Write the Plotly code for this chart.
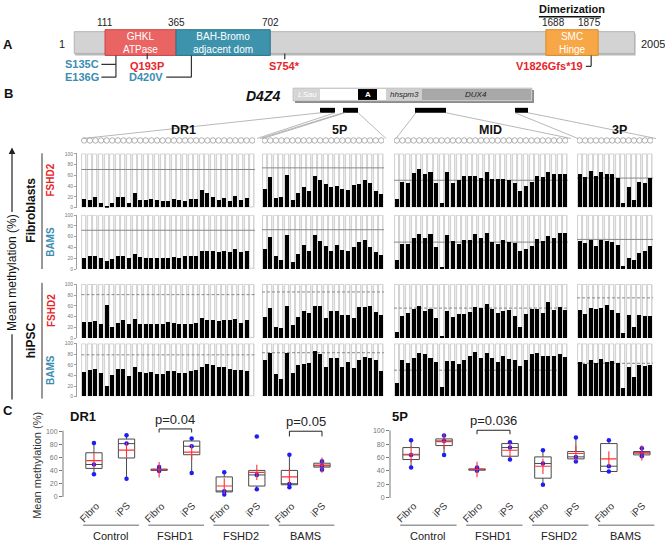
import plotly.graph_objects as go

W, H = 665, 544
FONT = "Arial, 'Liberation Sans', sans-serif"
RED = "#e8262a"
TEAL = "#3b8db2"

def PX(x):
    return x / W

def PY(y):
    return 1 - y / H

# ---------------- Panel A data ----------------
protein_length = 2005
domain_labels = ["GHKL<br>ATPase", "BAH-Bromo<br>adjacent dom", "SMC<br>Hinge"]
domain_start = [111, 365, 1688]
domain_end = [365, 702, 1875]
domain_colors = ["#ea6464", "#3d92ac", "#f7a746"]
domain_edges = ["#c94646", "#2c7389", "#d98a2a"]
boundary_ticks = [111, 365, 702, 1688, 1875]
dimerization = [1688, 1875]
mutation_labels = ["S135C", "E136G", "Q193P", "D420V", "S754*", "V1826Gfs*19"]
mutation_pos = [135, 136, 193, 420, 754, 1826]
mutation_colors = [TEAL, TEAL, RED, TEAL, RED, RED]

# ---------------- Panel B data ----------------
regions = ["DR1", "5P", "MID", "3P"]
row_cells = ["Fibroblasts", "Fibroblasts", "hiPSC", "hiPSC"]
row_lines = ["FSHD2", "BAMS", "FSHD2", "BAMS"]

DR1_fibro_FSHD2 = [16, 13, 19, 8, 3, 9, 19, 20, 8, 27, 13, 13, 15, 13, 11, 12, 16, 13, 12, 15, 15, 32, 26, 19, 13, 17, 12, 21, 14, 17, None]
DR1_fibro_BAMS = [22, 24, 24, 22, 16, 19, 24, 24, 21, 28, 23, 22, 22, 22, 22, 22, 23, 22, 24, 25, 24, 35, 35, 35, 33, 34, 33, 37, 32, 35, None]
DR1_ipsc_FSHD2 = [30, 31, 33, 27, 62, 22, 28, 34, 27, 36, 27, 26, 27, 27, 26, 31, 29, 26, 27, 27, 29, 37, 35, 34, 32, 35, 34, 36, 29, 35, None]
DR1_ipsc_BAMS = [46, 50, 52, 44, 20, 41, 51, 52, 38, 55, 46, 44, 46, 43, 43, 49, 48, 45, 44, 48, 50, 56, 62, 59, 56, 55, 52, 50, 50, 48, None]

P5_fibro_FSHD2 = [34, 57, 18, 20, 61, 13, 27, 38, 31, 58, 51, 43, 37, 40, 34, 33, 41, 43, 50, 45, 31, 25]
P5_fibro_BAMS = [38, 61, 24, 17, 64, 14, 29, 46, 34, 64, 53, 43, 35, 45, 36, 35, 41, 50, 54, 41, 32, 27]
P5_ipsc_FSHD2 = [40, 57, 21, 20, 60, 24, 40, 50, 47, 61, 60, 37, 50, 51, 44, 44, 38, 58, 59, 60, 49, 44]
P5_ipsc_BAMS = [68, 83, 42, 33, 82, 45, 60, 61, 63, 86, 81, 56, 73, 72, 56, 65, 53, 69, 75, 72, 68, 49]

MID_fibro_FSHD2 = [16, 48, 46, 63, 71, 62, 66, 46, 8, 65, 46, 50, 58, 59, 59, 55, 66, 52, 52, 53, 50, 45, 31, 40, 48, 59, 56, 65, 62, 62, 62]
MID_fibro_BAMS = [17, 48, 48, 59, 66, 58, 66, 41, 5, 63, 52, 48, 55, 55, 66, 59, 68, 50, 48, 55, 51, 49, 34, 37, 43, 56, 52, 62, 58, 67, 67]
MID_ipsc_FSHD2 = [12, 41, 47, 55, 60, 50, 55, 38, 5, 51, 39, 46, 45, 49, 59, 56, 64, 55, 48, 51, 52, 41, 22, 45, 54, 55, 47, 67, 53, 59, 53]
MID_ipsc_BAMS = [26, 69, 64, 73, 82, 80, 72, 65, 18, 67, 67, 61, 69, 77, 84, 73, 82, 73, 66, 77, 70, 68, 57, 69, 80, 82, 76, 76, 76, 80, 75]

P3_fibro_FSHD2 = [62, 57, 68, 59, 66, 62, 62, 54, 8, 38, 14, 48, 45, 54]
P3_fibro_BAMS = [52, 49, 54, 43, 55, 53, 50, 46, 7, 22, 17, 30, 34, 43]
P3_ipsc_FSHD2 = [53, 46, 56, 55, 56, 62, 53, 47, 10, 44, 21, 44, 42, 41]
P3_ipsc_BAMS = [65, 61, 69, 64, 70, 65, 67, 63, 15, 55, 37, 59, 58, 59]

ref_DR1 = [71, 72, 81, 79]
ref_5P = [74, 73, 86, 83]
ref_MID = [51, 50, 56, 50]
ref_3P = [55, 55, 75, 63]

# ---------------- Panel C data ----------------
groups = ["Control", "FSHD1", "FSHD2", "BAMS"]
cell_types = ["Fibro", "iPS", "Fibro", "iPS", "Fibro", "iPS", "Fibro", "iPS"]

DR1_q1 = [43, 59, 40, 64, 7, 16, 18, 45]
DR1_median = [49, 81, 41, 77, 8, 33, 19, 47]
DR1_q3 = [67, 88, 42, 85, 30, 40, 40, 51]
DR1_low = [34, 27, 39, 36, 4, 12, 14, 41]
DR1_high = [82, 93, 44, 89, 37, 40, 64, 54]
DR1_mean = [55, 71, 41, 68, 16, 37, 30, 48]
DR1_points = [[82, 49, 34], [94, 81, 27], [45, 41, 39], [89, 77, 36], [37, 8, 3], [92, 33, 11], [64, 19, 14], [54, 47, 41]]

P5_q1 = [57, 78, 41, 62, 29, 58, 39, 64]
P5_median = [64, 85, 42, 75, 51, 61, 47, 67]
P5_q3 = [75, 88, 43, 81, 61, 69, 81, 69]
P5_low = [45, 64, 40, 57, 19, 54, 39, 62]
P5_high = [86, 93, 45, 83, 71, 90, 86, 74]
P5_mean = [65, 84, 42, 71, 47, 66, 58, 67]
P5_points = [[86, 64, 45], [93, 85, 64], [45, 42, 40], [83, 75, 57], [71, 51, 19], [90, 61, 54], [86, 47, 39], [74, 67, 62]]

DR1_pvalues = [("p=0.04", 2, 3, 98, 103.5), ("p=0.05", 6, 7, 92, 100)]
P5_pvalues = [("p=0.036", 2, 3, 95, 101)]

# ---------------- figure ----------------
fig = go.Figure()
lay = {}
shapes = []
annotations = []

def axkey(i, k):
    return f"{k}axis" + ("" if i == 1 else str(i))

def aref(i, k):
    return k + ("" if i == 1 else str(i))

def ann(text, x, y, size=11, color="#111", bold=False, italic=False, angle=0,
        xanchor="center", yanchor="middle", xref="paper", yref="paper", **kw):
    t = text
    if bold:
        t = f"<b>{t}</b>"
    if italic:
        t = f"<i>{t}</i>"
    d = dict(text=t, x=x, y=y, xref=xref, yref=yref, showarrow=False,
             font=dict(size=size, color=color, family=FONT), textangle=angle,
             xanchor=xanchor, yanchor=yanchor)
    d.update(kw)
    annotations.append(d)

def pline(x0, y0, x1, y1, color="#999", width=0.8, dash="solid"):
    shapes.append(dict(type="line", xref="paper", yref="paper", x0=PX(x0), y0=PY(y0),
                       x1=PX(x1), y1=PY(y1), line=dict(color=color, width=width, dash=dash)))

def prect(x0, y0, x1, y1, fill, lc="rgba(0,0,0,0)", lw=0):
    shapes.append(dict(type="rect", xref="paper", yref="paper", x0=PX(x0), y0=PY(y1),
                       x1=PX(x1), y1=PY(y0), fillcolor=fill, line=dict(color=lc, width=lw)))

# ===== Panel B bar grids =====
panel_values = [
    [DR1_fibro_FSHD2, P5_fibro_FSHD2, MID_fibro_FSHD2, P3_fibro_FSHD2],
    [DR1_fibro_BAMS, P5_fibro_BAMS, MID_fibro_BAMS, P3_fibro_BAMS],
    [DR1_ipsc_FSHD2, P5_ipsc_FSHD2, MID_ipsc_FSHD2, P3_ipsc_FSHD2],
    [DR1_ipsc_BAMS, P5_ipsc_BAMS, MID_ipsc_BAMS, P3_ipsc_BAMS],
]
ref_lines = [ref_DR1, ref_5P, ref_MID, ref_3P]
col_px = [(77, 255), (262, 384), (394, 568), (577, 653)]
row_px = [(152, 207), (214, 269), (284, 339), (344, 398)]
BW = 0.72

def col_range(c, n):
    return [-1.3 if c == 0 else -0.5, n - 0.5]

for r in range(4):
    for c in range(4):
        i = r * 4 + c + 1
        ov = 23 + i  # overlay axis for the black bars (drawn above the reference line)
        vals = panel_values[r][c]
        n = len(vals)
        xs = list(range(n))
        lay[axkey(i, "x")] = dict(domain=[PX(col_px[c][0]), PX(col_px[c][1])], range=col_range(c, n),
                                  visible=False, anchor=aref(i, "y"), fixedrange=True)
        ya = dict(domain=[PY(row_px[r][1]), PY(row_px[r][0])], range=[0, 101], anchor=aref(i, "x"),
                  showgrid=False, zeroline=False, fixedrange=True)
        if c == 0:
            ya.update(showline=True, linecolor="#a0a0a0", linewidth=0.8, ticks="outside", ticklen=2,
                      tickcolor="#a0a0a0", tickwidth=0.7, tickvals=[0, 20, 40, 60, 80, 100],
                      tickfont=dict(size=5, color="#777", family=FONT))
        else:
            ya.update(visible=False)
        lay[axkey(i, "y")] = ya
        lay[axkey(ov, "y")] = dict(domain=ya["domain"], range=[0, 101], overlaying=aref(i, "y"),
                                   anchor=aref(i, "x"), visible=False, fixedrange=True)
        shapes.append(dict(type="rect", xref=aref(i, "x"), yref=aref(i, "y"), x0=-0.5, x1=n - 0.5,
                           y0=0, y1=100, fillcolor="#ececec", line=dict(width=0), layer="below"))
        fig.add_trace(go.Bar(x=xs, y=[100] * n, width=BW,
                             marker=dict(color="white", line=dict(color="#c6c6c6", width=0.8)),
                             xaxis=aref(i, "x"), yaxis=aref(i, "y"), hoverinfo="skip", showlegend=False))
        fig.add_trace(go.Scatter(x=[-0.5, n - 0.5], y=[ref_lines[c][r]] * 2, mode="lines",
                                 line=dict(color="#888888", width=1, dash="solid" if r < 2 else "3px,2px"),
                                 xaxis=aref(i, "x"), yaxis=aref(i, "y"), hoverinfo="skip", showlegend=False))
        fig.add_trace(go.Bar(x=xs, y=vals, width=BW, marker=dict(color="black", line=dict(width=0)),
                             xaxis=aref(i, "x"), yaxis=aref(ov, "y"), showlegend=False))

# ===== Lollipop strips =====
for c in range(4):
    i = 17 + c
    n = len(panel_values[0][c])
    lay[axkey(i, "x")] = dict(domain=[PX(col_px[c][0]), PX(col_px[c][1])], range=col_range(c, n),
                              visible=False, anchor=aref(i, "y"))
    lay[axkey(i, "y")] = dict(domain=[PY(146), PY(132)], range=[0, 1], visible=False, anchor=aref(i, "x"))
    fig.add_trace(go.Scatter(x=[-0.6, n - 0.4], y=[0.5, 0.5], mode="lines",
                             line=dict(color="#9a9a9a", width=0.7, dash="2px,1px"),
                             xaxis=aref(i, "x"), yaxis=aref(i, "y"), showlegend=False, hoverinfo="skip"))
    fig.add_trace(go.Scatter(x=list(range(n)), y=[0.5] * n, mode="markers",
                             marker=dict(symbol="circle", size=5.5, color="white",
                                         line=dict(color="#8f8f8f", width=0.7)),
                             xaxis=aref(i, "x"), yaxis=aref(i, "y"), showlegend=False, hoverinfo="skip"))

region_label_px = [183, 339, 491, 619]
for c in range(4):
    ann(regions[c], PX(region_label_px[c]), PY(128), size=12.5, bold=True)

# D4Z4 schematic
prect(295, 88, 534, 101, "#8c8c8c")
prect(293, 86, 532, 99, "#d8d8d8", "#b0b0b0", 0.6)
d4z4_segments = [(295, 320, "#d5d5d5"), (320, 358, "white"), (358, 377, "black"),
                 (377, 386, "white"), (386, 422, "#cfcfcf"), (422, 531, "#a8a8a8")]
for x0, x1, col in d4z4_segments:
    prect(x0, 87, x1, 98, col)
ann("LSau", PX(307), PY(92.5), size=8, color="white", italic=True)
ann("A", PX(367.5), PY(92.5), size=8, color="white", bold=True)
ann("hhspm3", PX(404), PY(92.5), size=8, color="#222", italic=True)
ann("DUX4", PX(476), PY(92.5), size=8, color="#222", italic=True)
ann("D4Z4", PX(263), PY(94), size=14, bold=True, italic=True)
for x0, x1 in [(320, 335), (343, 358), (415, 446), (515, 528)]:
    prect(x0, 106, x1, 111, "black")
for x0, x1 in [(321, 83), (335, 257), (343, 260), (345, 263), (358, 386), (416, 396), (446, 571), (515, 578), (528, 656)]:
    pline(x0, 111, x1, 137, color="#9a9a9a", width=0.7)

# left labels of panel B
ann("B", PX(8), PY(92), size=13, bold=True)
for r in range(4):
    cy = (row_px[r][0] + row_px[r][1]) / 2
    ann(row_lines[r], PX(51), PY(cy), size=10, color=RED if row_lines[r] == "FSHD2" else TEAL,
        bold=True, angle=-90)
ann("Fibroblasts", PX(31), PY(210), size=12, bold=True, angle=-90)
ann("hiPSC", PX(31), PY(341), size=12, bold=True, angle=-90)
pline(42, 152, 42, 269, color="#333", width=1)
pline(42, 283, 42, 400, color="#333", width=1)
ann("Mean methylation (%)", PX(12), PY(273), size=12, angle=-90)
annotations.append(dict(x=PX(12), y=PY(146), xref="paper", yref="paper", text="", showarrow=True,
                        ax=0, ay=66, arrowhead=2, arrowsize=1.1, arrowwidth=1.2, arrowcolor="#222"))
pline(12, 335, 12, 401, color="#222", width=1.2)

# ===== Panel A =====
A = 23
lay[axkey(A, "x")] = dict(domain=[PX(71.2), PX(637.3)], range=[-10, 2015], visible=False, anchor=aref(A, "y"))
lay[axkey(A, "y")] = dict(domain=[PY(85), 1], range=[85, 0], visible=False, anchor=aref(A, "x"))
xa, ya_ = aref(A, "x"), aref(A, "y")
shapes.append(dict(type="rect", xref=xa, yref=ya_, x0=4, x1=protein_length + 4, y0=31, y1=53,
                   fillcolor="#b9b9b9", line=dict(width=0)))
shapes.append(dict(type="rect", xref=xa, yref=ya_, x0=1, x1=protein_length, y0=29, y1=51,
                   fillcolor="#d3d3d3", line=dict(color="#b3b3b3", width=1)))
for lab, s, e, col, ec in zip(domain_labels, domain_start, domain_end, domain_colors, domain_edges):
    shapes.append(dict(type="rect", xref=xa, yref=ya_, x0=s, x1=e, y0=27, y1=53,
                       fillcolor=col, line=dict(color=ec, width=1)))
    ann(lab, (s + e) / 2, 40, size=10, color="white", xref=xa, yref=ya_)
boundary_label_shift = [0, 0, 0, 8, -9]
for b, sh in zip(boundary_ticks, boundary_label_shift):
    ann(str(b), b, 20, size=10, color="#222", xref=xa, yref=ya_, xshift=sh)
ann("1", 1, 41, size=11, color="#222", xref=xa, yref=ya_, xanchor="right", xshift=-7)
ann(str(protein_length), protein_length, 41, size=11, color="#222", xref=xa, yref=ya_, xanchor="left", xshift=4)
ann("Dimerization", sum(dimerization) / 2, 6, size=11, bold=True, xref=xa, yref=ya_)
shapes.append(dict(type="line", xref=xa, yref=ya_, x0=dimerization[0] - 25, x1=dimerization[1] + 10, y0=14, y1=14,
                   line=dict(color="#111", width=1.5)))

def aline(x0, y0, x1, y1):
    shapes.append(dict(type="line", xref=xa, yref=ya_, x0=x0, x1=x1, y0=y0, y1=y1,
                       line=dict(color="#333", width=1.2)))

# leader geometry (schematic placement of labels and leader lines, in residue units)
mut_label_x = [95, 95, 262, 326, 754, 1828]
mut_label_y = [62, 75, 64, 75, 64, 64]
mut_anchor = ["right", "right", "center", "right", "center", "right"]
for lab, col, lx, ly, anc in zip(mutation_labels, mutation_colors, mut_label_x, mut_label_y, mut_anchor):
    ann(lab, lx, ly, size=11, color=col, bold=True, xref=xa, yref=ya_, xanchor=anc)
aline(150, 53, 150, 75)
aline(98, 62, 150, 62)
aline(98, 75, 150, 75)
aline(262, 51, 262, 57)
aline(mutation_pos[3], 53, mutation_pos[3], 75)
aline(330, 75, mutation_pos[3], 75)
aline(mutation_pos[4], 51, mutation_pos[4], 57)
aline(1850, 53, 1850, 64)
aline(1831, 64, 1850, 64)
ann("A", PX(8), PY(42), size=13, bold=True)

# ===== Panel C =====
C_geom = {21: (63, 335, -0.95, 7.4, 499, 433), 22: (390, 655, -0.64, 7.4, 500, 432.7)}

def c_px(ax, v):
    x0, x1, r0, r1 = C_geom[ax][:4]
    return x0 + (v - r0) / (r1 - r0) * (x1 - x0)

C_sets = [
    (21, "DR1", DR1_q1, DR1_median, DR1_q3, DR1_low, DR1_high, DR1_mean, DR1_points, DR1_pvalues, 68),
    (22, "5P", P5_q1, P5_median, P5_q3, P5_low, P5_high, P5_mean, P5_points, P5_pvalues, 390),
]
positions = list(range(len(cell_types)))
for ax, title, q1, med, q3, lo, hi, mn, pts, pv, title_x in C_sets:
    x0, x1, r0, r1, y0px, y100px = C_geom[ax]
    ppu = (y0px - y100px) / 100.0
    top = y0px - 112 * ppu
    lay[axkey(ax, "x")] = dict(domain=[PX(x0), PX(x1)], range=[r0, r1], anchor=aref(ax, "y"),
                               showticklabels=False, showline=False,
                               showgrid=False, zeroline=False, ticks="")
    lay[axkey(ax, "y")] = dict(domain=[PY(y0px), PY(top)], range=[0, 112], anchor=aref(ax, "x"),
                               tickvals=[0, 20, 40, 60, 80, 100], ticks="outside", ticklen=3,
                               tickcolor="#777", tickfont=dict(size=7, color="#777", family=FONT),
                               showline=False, showgrid=False, zeroline=False)
    pline(x0, y0px + 0.5, x0, y100px - 0.5, color="#777", width=1)
    # rotated category labels
    for p, ct in zip(positions, cell_types):
        is_f = ct == "Fibro"
        ann(ct, p - (0.14 if is_f else 0.12), PY(515 if is_f else 512), size=10, color="#333",
            angle=-45, xref=aref(ax, "x"), yref="paper")
    fig.add_trace(go.Box(x=positions, q1=q1, median=med, q3=q3, lowerfence=lo, upperfence=hi,
                         width=0.5, whiskerwidth=0, fillcolor="white", boxpoints=False,
                         line=dict(color="#4a4a4a", width=1),
                         xaxis=aref(ax, "x"), yaxis=aref(ax, "y"), showlegend=False))
    px_, py_ = [], []
    for p, vals in zip(positions, pts):
        for v in vals:
            px_.append(p)
            py_.append(v)
    fig.add_trace(go.Scatter(x=px_, y=py_, mode="markers", marker=dict(color="#1d1df5", size=4.5),
                             xaxis=aref(ax, "x"), yaxis=aref(ax, "y"), showlegend=False, cliponaxis=False))
    fig.add_trace(go.Scatter(x=positions, y=mn, mode="markers",
                             marker=dict(symbol="cross-thin", size=11, line=dict(color="#ff3030", width=1.1)),
                             xaxis=aref(ax, "x"), yaxis=aref(ax, "y"), showlegend=False, cliponaxis=False))
    for label, a, b, ylo, yhi in pv:
        shapes.append(dict(type="path", xref=aref(ax, "x"), yref=aref(ax, "y"),
                           path=f"M {a},{ylo} L {a},{yhi} L {b},{yhi} L {b},{ylo}",
                           line=dict(color="#222", width=1)))
        ann(label, (a + b) / 2, PY(y0px - ppu * yhi - 10), size=13, color="#222",
            xref=aref(ax, "x"), yref="paper")
    ann(title, PX(title_x), PY(418), size=13, bold=True, xanchor="left")
    for g, gname in enumerate(groups):
        pline(c_px(ax, 2 * g - 0.33), 528, c_px(ax, 2 * g + 1.38), 528, color="#9a9a9a", width=1.5)
        ann(gname, PX(c_px(ax, 2 * g + 0.5)), PY(539), size=11, color="#222")

ann("C", PX(8), PY(412), size=13, bold=True)
ann("Mean methylation (%)", PX(37), PY(468), size=11, color="#333", angle=-90)

fig.update_layout(
    width=W, height=H, margin=dict(l=0, r=0, t=0, b=0), autosize=False,
    paper_bgcolor="white", plot_bgcolor="rgba(0,0,0,0)", barmode="overlay", bargap=0,
    showlegend=False, font=dict(family=FONT), shapes=shapes, annotations=annotations, **lay)

fig.write_html("out.html", post_script="document.body.style.margin='0px';",
               config={"displayModeBar": False})
